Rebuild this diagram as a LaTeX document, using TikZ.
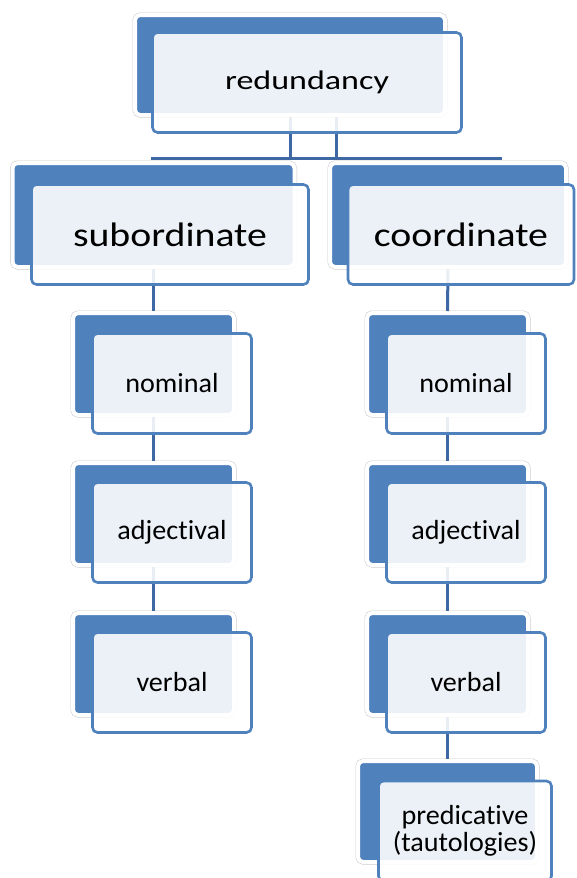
\documentclass[tikz,border=0pt]{standalone}
\usepackage{fontspec}
\setmainfont[Ligatures=NoCommon]{Carlito}
\newfontfamily\toplabel[FakeStretch=1.27,Ligatures=NoCommon]{Carlito}
\newfontfamily\midlabel[FakeStretch=1.17,Ligatures=NoCommon]{Carlito}
\newfontfamily\lowlabel[FakeStretch=1.02,Ligatures=NoCommon]{Carlito}
\definecolor{artblue}{RGB}{79,129,189}
\definecolor{linkblue}{RGB}{62,104,164}
\definecolor{glowgray}{RGB}{200,200,200}
\tikzstyle{backbox}=[rectangle, rounded corners=5pt, fill=artblue, draw=white, line width=4pt,
preaction={draw=glowgray, line width=5pt}, inner sep=0pt]
\tikzstyle{frontbox}=[rectangle, rounded corners=5pt, fill=white, fill opacity=0.89, text opacity=1,
draw=artblue, line width=2.6pt, text=black, inner sep=0pt, align=center]
\tikzstyle{link}=[draw=linkblue, line width=3pt]

\begin{document}
\begin{tikzpicture}[x=1pt,y=-1pt]
\clip (0,0) rectangle (577,878);
\node[backbox, minimum width=310pt, minimum height=100pt](topback)at (290,65){};
\node[backbox, minimum width=282pt, minimum height=104pt](subback)at (153.5,215){};
\node[backbox, minimum width=236pt, minimum height=104pt](coback)at (448,215){};

\node[backbox, minimum width=161pt, minimum height=102pt](subnomback)at (153.5,364){};
\node[backbox, minimum width=161pt, minimum height=102pt](subadjback)at (153.5,514){};
\node[backbox, minimum width=161pt, minimum height=102pt](subverback)at (153.5,664){};

\node[backbox, minimum width=161pt, minimum height=102pt](conomback)at (447.5,364){};
\node[backbox, minimum width=161pt, minimum height=102pt](coadjback)at (447.5,514){};
\node[backbox, minimum width=161pt, minimum height=102pt](coverback)at (447.5,664){};
\node[backbox, minimum width=179pt, minimum height=101pt](copreback)at (447.5,811.5){};

\coordinate (barleft) at (151,158);
\coordinate (barright) at (502,158);
\draw [link](topback.south) |- (barright);
\draw [link]([xshift=46pt]topback.south) |- (barleft);

\draw [link](subback.south) -- (subnomback.north);
\draw [link](subnomback.south) -- (subadjback.north);
\draw [link](subadjback.south) -- (subverback.north);

\draw [link](coback.south) -- (conomback.north);
\draw [link](conomback.south) -- (coadjback.north);
\draw [link](coadjback.south) -- (coverback.north);
\draw [link](coverback.south) -- (copreback.north);

\node[frontbox, minimum width=309pt, minimum height=100pt, font=\toplabel\fontsize{26.8}{30}\selectfont](topfront)at (307,82.5){redundancy};
\node[frontbox, minimum width=277pt, minimum height=100pt, font=\midlabel\fontsize{34}{36}\selectfont](subfront)at (170,234.5){subordinate};
\node[frontbox, minimum width=226pt, minimum height=100pt, font=\midlabel\fontsize{34}{36}\selectfont](cofront)at (461,234.5){coordinate};

\node[frontbox, minimum width=159pt, minimum height=100pt, font=\lowlabel\fontsize{27.6}{27}\selectfont](subnomfront)at (172,383.5){nominal};
\node[frontbox, minimum width=159pt, minimum height=100pt, font=\lowlabel\fontsize{27.6}{27}\selectfont](subadjfront)at (172,532.5){adjectival};
\node[frontbox, minimum width=159pt, minimum height=100pt, font=\lowlabel\fontsize{27.6}{27}\selectfont](subverfront)at (172,682.5){verbal};

\node[frontbox, minimum width=159pt, minimum height=100pt, font=\lowlabel\fontsize{27.6}{27}\selectfont](conomfront)at (466,383.5){nominal};
\node[frontbox, minimum width=159pt, minimum height=100pt, font=\lowlabel\fontsize{27.6}{27}\selectfont](coadjfront)at (466,532.5){adjectival};
\node[frontbox, minimum width=159pt, minimum height=100pt, font=\lowlabel\fontsize{27.6}{27}\selectfont](coverfront)at (466,682.5){verbal};
\node[frontbox, minimum width=173pt, minimum height=100pt, font=\lowlabel\fontsize{27.6}{26.5}\selectfont](coprefront)at (465,831){predicative\\(tautologies)};
\end{tikzpicture}
\end{document}
